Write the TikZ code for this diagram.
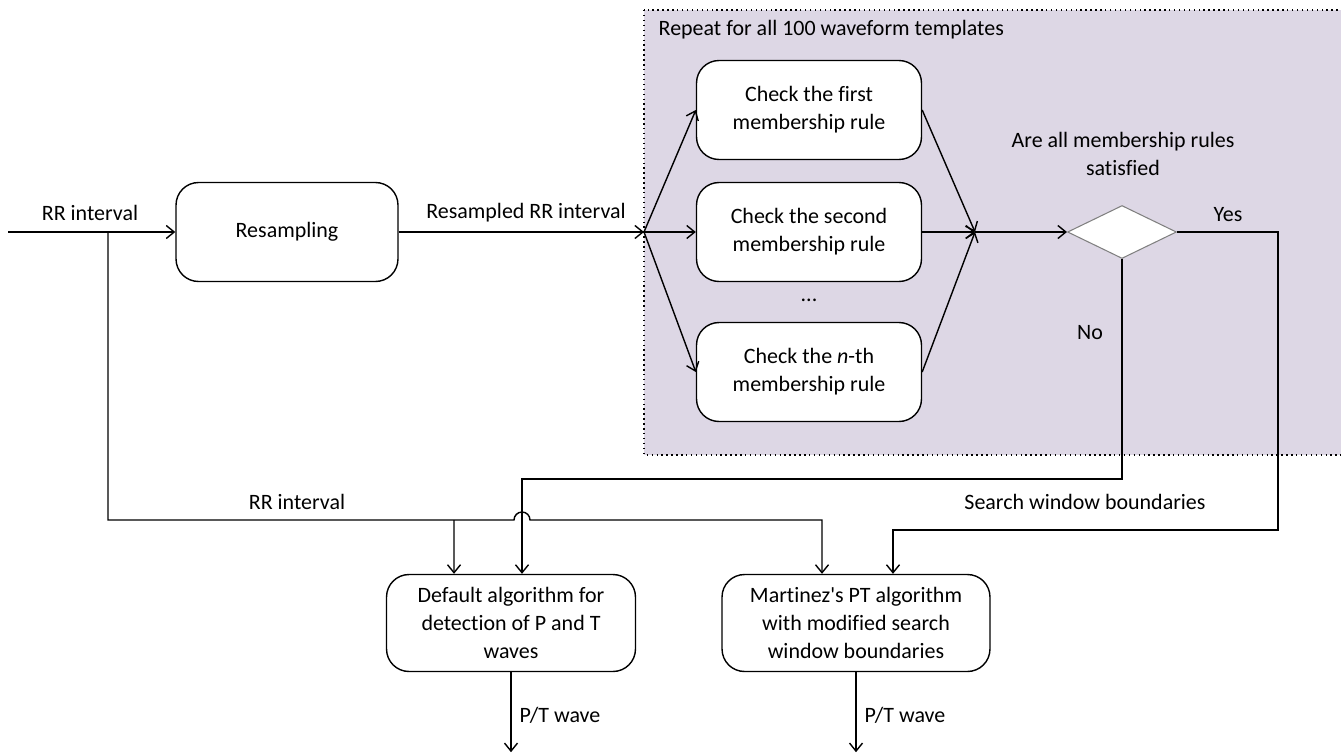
\documentclass[tikz,border=0pt]{standalone}
\usepackage{fontspec}
\setmainfont[Ligatures={TeXOff,NoCommon}]{Carlito}
\usetikzlibrary{arrows.meta,shapes.geometric}
\definecolor{panel}{RGB}{221,215,229}

\begin{document}
\begin{tikzpicture}[x=0.02cm,y=-0.02cm,>={Straight Barb[length=1.6mm,width=2.6mm]},
  font=\fontsize{12.5}{16}\selectfont]
\tikzstyle{every path}=[line width=0.8pt]
\tikzstyle{block}=[draw,rectangle,rounded corners=0.45cm,align=center,minimum height=1.98cm]
\tikzstyle{check}=[block,minimum width=4.5cm,fill=white]
\tikzstyle{lbl}=[inner sep=0pt]
\useasboundingbox (0,0) rectangle (1341,754);
% shaded loop region
\draw [fill=panel,dotted,line width=1.2pt] (644,10) rectangle (1360,455);
\node [lbl,anchor=west] (title) at (658,30) {Repeat for all 100 waveform templates};
% blocks
\node [block,minimum width=4.44cm] (resamp) at (287,232) {Resampling};
\node [check] (rule1) at (809,110) {Check the first\\membership rule};
\node [check] (rule2) at (809,232) {Check the second\\membership rule};
\node [check] (rule3) at (809,372) {Check the \emph{n}-th\\membership rule};
\node [lbl] (dots) at (809,300) {...};
\node [diamond,draw=gray,fill=white,line width=0.6pt,minimum width=2.18cm,minimum height=1.06cm,inner sep=0pt] (dec) at (1122,232) {};
\node [block,minimum width=4.98cm,minimum height=1.94cm] (default) at (511,623) {Default algorithm for\\detection of P and T\\waves};
\node [block,minimum width=5.36cm,minimum height=1.94cm] (martinez) at (856,623) {Martinez's PT algorithm\\with modified search\\window boundaries};
% junctions
\coordinate (in) at (8,232);
\coordinate (rrtap) at (108,232);
\coordinate (split) at (644,232);
\coordinate (merge) at (975,232);
% labels
\node [lbl] (rrin) at (90,213) {RR interval};
\node [lbl] (rsrr) at (526,213) {Resampled RR interval};
\node [lbl,align=center] (ask) at (1123,154) {Are all membership rules\\satisfied};
\node [lbl] (yes) at (1228,215) {Yes};
\node [lbl] (no) at (1090,333) {No};
\node [lbl] (rrlow) at (297,502) {RR interval};
\node [lbl] (swb) at (1085,502) {Search window boundaries};
\node [lbl] (pt1) at (560,715) {P/T wave};
\node [lbl] (pt2) at (905,715) {P/T wave};
% connectors
\draw [->] (in) -- (resamp.west);
\draw [->] (resamp.east) -- (split);
\draw [->] (split) -- (rule1.west);
\draw [->] (split) -- (rule2.west);
\draw [->] (split) -- (rule3.west);
\draw [->] (rule1.east) -- (merge);
\draw [->] (rule2.east) -- (merge);
\draw [->] (rule3.east) -- (merge);
\draw [->] (merge) -- (dec.west);
% no branch
\draw [->] (dec.south) -- (1122,479) -| ([xshift=0.22cm]default.north);
% yes branch
\draw [->] (dec.east) -- (1278,232) -- (1278,530) -| ([xshift=0.74cm]martinez.north);
% RR interval to both algorithms, hopping over the no branch
\draw [->] (rrtap) -- (108,520) -- (514,520) arc [start angle=180,end angle=0,radius=0.16cm]
  -- (822,520) -- ([xshift=-0.68cm]martinez.north);
\draw [->] (454,520) -- ([xshift=-1.14cm]default.north);
% outputs
\draw [->] (default.south) -- ++(0,80);
\draw [->] (martinez.south) -- ++(0,80);
\end{tikzpicture}
\end{document}
